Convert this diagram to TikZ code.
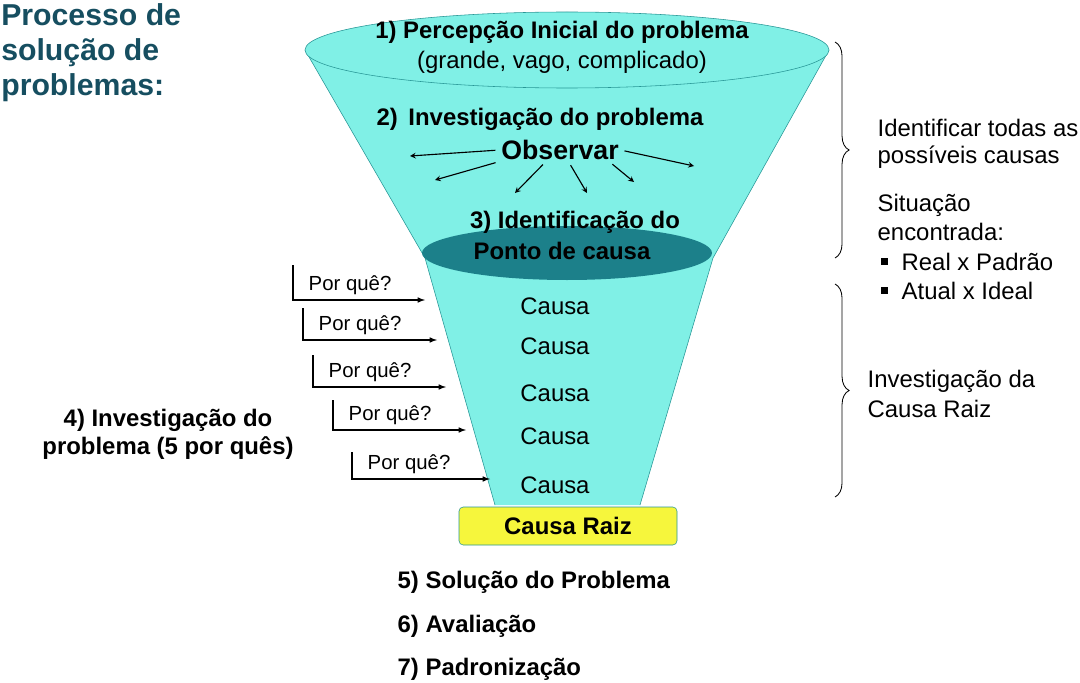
\documentclass[tikz,border=0pt]{standalone}
\usepackage{fontspec}
\setmainfont{Liberation Sans}
\usetikzlibrary{calc}
\usetikzlibrary{positioning}
\usetikzlibrary{decorations.pathreplacing}
\usepackage{xcolor}
\definecolor{funnelfill}{RGB}{128,240,230}
\definecolor{funneledge}{RGB}{40,150,150}
\definecolor{causedark}{RGB}{28,128,138}
\definecolor{titleteal}{RGB}{22,78,96}
\definecolor{rootyellow}{RGB}{246,246,60}
\newcommand{\sizestage}{\fontsize{17}{20}\selectfont}
\newcommand{\sizewhy}{\fontsize{14.5}{17}\selectfont}
\tikzset{
    stage/.style={font=\sizestage\bfseries, inner sep=1pt},
    plain/.style={font=\sizestage, inner sep=1pt},
    why/.style={font=\sizewhy, inner sep=1pt},
    side/.style={font=\sizestage, anchor=west, inner sep=1pt},
    obsarrow/.style={->, thick, >=stealth, shorten <=3pt},
    whyarrow/.style={->, thick, >=latex},
    bracket/.style={decorate, decoration={brace, amplitude=10pt}, semithick},
}

\begin{document}
\begin{tikzpicture}[x=0.025cm, y=-0.025cm]
    \useasboundingbox (0,0) rectangle (1080,683);

    % funnel
    \fill[funnelfill] (305,50) -- (425,258) -- (495,505) -- (640,505) -- (713,258) -- (829,50) -- cycle;
    \draw[funneledge, thin] (305,50) -- (425,258) -- (495,505) (829,50) -- (713,258) -- (640,505);
    \draw[funneledge, fill=funnelfill] (567,50) ellipse (262 and 38);
    \fill[causedark] (567,253) ellipse (145 and 27);
    \draw[funneledge, fill=rootyellow, rounded corners=3pt] (459,507) rectangle (677,545);
    \node[stage] (root) at (568,526) {Causa Raiz};

    % title
    \node[anchor=north west, align=left, text=titleteal, font=\fontsize{21.5}{25}\selectfont\bfseries, inner sep=0pt] (title) at (1,3)
        {Processo de\\solução de\\problemas:};

    % stages in the funnel
    \path
        (562,32) node[stage] (perception) {1) Percepção Inicial do problema}
        (562,62) node[plain] (vague) {(grande, vago, complicado)}
        (540,119) node[stage] (investigate) {2)\, Investigação do problema}
        (560,150) node[stage, font=\fontsize{19}{22}\selectfont\bfseries] (observe) {Observar}
        (575,222) node[stage] (identify) {3) Identificação do}
        (562,251) node[stage] (point) {Ponto de causa};

    \coordinate (obs-a) at (410,156);
    \coordinate (obs-b) at (435,180);
    \coordinate (obs-c) at (515,193);
    \coordinate (obs-d) at (587,193);
    \coordinate (obs-e) at (634,182);
    \coordinate (obs-f) at (694,166);
    \draw[obsarrow] (observe.west) -- (obs-a);
    \draw[obsarrow] (observe.south west) -- (obs-b);
    \draw[obsarrow] ([xshift=-10pt]observe.south) -- (obs-c);
    \draw[obsarrow] ([xshift=6pt]observe.south) -- (obs-d);
    \draw[obsarrow] ([xshift=-8pt]observe.south east) -- (obs-e);
    \draw[obsarrow] (observe.east) -- (obs-f);

    % causes and why arrows
    \foreach \i/\y/\top/\x/\tip in {1/306/265/293/425, 2/346/308/303/437, 3/393/355/313/446, 4/436/400/333/466, 5/485/452/352/490} {
        \node[plain] (cause-\i) at (555,\y) {Causa};
        \coordinate (why-top-\i) at (\x,\top);
        \coordinate (why-corner-\i) at (\x,\y-6);
        \coordinate (why-tip-\i) at (\tip,\y-6);
        \draw[whyarrow] (why-top-\i) -- (why-corner-\i) -- (why-tip-\i);
        \node[why, anchor=south west] (why-\i) at ($(why-corner-\i)+(14,-4)$) {Por quê?};
    }

    \node[stage, align=center] (five-whys) at (168,434) {4) Investigação do\\problema (5 por quês)};

    % right side
    \coordinate (brace-a-top) at (835,42);
    \coordinate (brace-a-bot) at (835,258);
    \coordinate (brace-b-top) at (835,284);
    \coordinate (brace-b-bot) at (835,497);
    \draw[bracket] (brace-a-top) -- (brace-a-bot);
    \draw[bracket] (brace-b-top) -- (brace-b-bot);

    \path
        (876,128) node[side] (all-causes) {Identificar todas as}
        (876,157) node[side] (possible) {possíveis causas}
        (876,205) node[side] (situation) {Situação}
        (876,232) node[side] (found) {encontrada:}
        (900,262) node[side] (real) {Real x Padrão}
        (900,291) node[side] (actual) {Atual x Ideal}
        (866,381) node[side] (root-a) {Investigação da}
        (866,409) node[side] (root-b) {Causa Raiz};
    \fill (881,258) rectangle (888,265);
    \fill (881,287) rectangle (888,294);

    % after the root cause
    \path
        (396,582) node[stage, anchor=west] (solution) {5) Solução do Problema}
        (396,626) node[stage, anchor=west] (evaluate) {6) Avaliação}
        (396,669) node[stage, anchor=west] (standard) {7) Padronização};
\end{tikzpicture}
\end{document}
